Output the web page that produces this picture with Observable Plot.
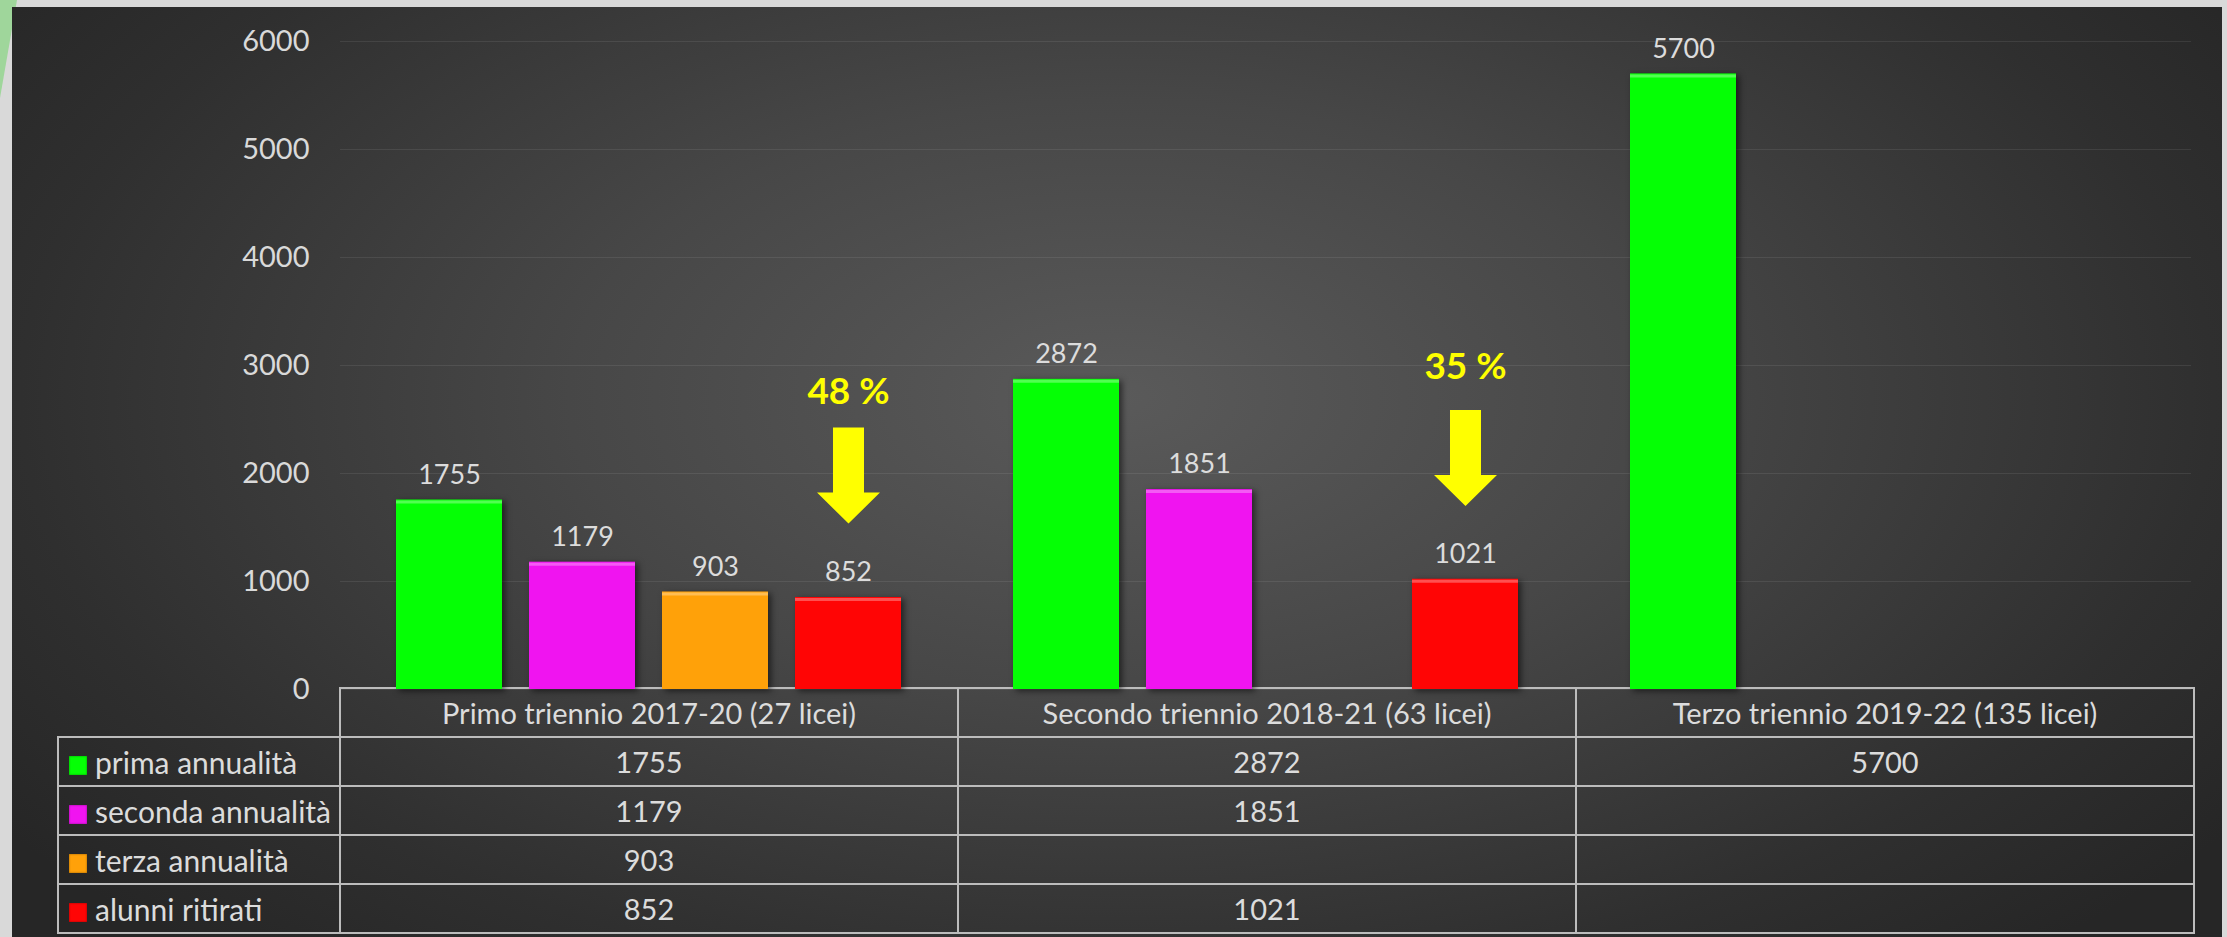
<!DOCTYPE html>
<html>
<head>
<meta charset="utf-8">
<script src="https://cdn.jsdelivr.net/npm/d3@7"></script>
<script src="https://cdn.jsdelivr.net/npm/@observablehq/plot@0.6"></script>
<style>
  html, body { margin: 0; padding: 0; width: 2227px; height: 937px; overflow: hidden; background: #d9d9d9; }
  #deco { position: absolute; left: 0; top: 0; width: 20px; height: 100px; background: #9fd69b; clip-path: polygon(0 0, 17px 0, 0 98px); }
  #bg { position: absolute; left: 12px; top: 7px; width: 2210px; height: 930px;
        background: radial-gradient(ellipse 62% 80% at 50% 42%, #5a5a5a 0%, #474747 40%, #2f2f2f 80%, #262626 100%); }
  #chart { position: absolute; left: 0; top: 0; }
  #table { position: absolute; left: 57px; top: 687px; }
  table { border-collapse: collapse; table-layout: fixed; font-family: Lato, "Open Sans", sans-serif; font-size: 29px; color: #dcdcdc; }
  td { border: 2px solid #bcbcbc; text-align: center; height: 47px; padding: 0; white-space: nowrap; }
  td.leg { text-align: left; padding-left: 10px; font-size: 30px; }
  td.blank { border-top: none; border-left: none; }
  .sw { display: inline-block; width: 18px; height: 19px; margin-right: 8px; vertical-align: -1px; box-shadow: inset 0 0 2px rgba(0,0,0,0.5); }
  g[aria-label="bar"] rect { filter: drop-shadow(3px 2px 3px rgba(0,0,0,0.55)); }
</style>
</head>
<body>
<div id="deco"></div>
<div id="bg"></div>
<div id="table"></div>
<div id="chart"></div>
<script>
// ---- data ----
const periods = [
  "Primo triennio 2017-20 (27 licei)",
  "Secondo triennio 2018-21 (63 licei)",
  "Terzo triennio 2019-22 (135 licei)"
];
const seriesNames = ["prima annualità", "seconda annualità", "terza annualità", "alunni ritirati"];
const seriesColors = ["#05ff05", "#f014f0", "#ffa109", "#ff0505"];
const primaAnnualita   = [1755, 2872, 5700];
const secondaAnnualita = [1179, 1851, null];
const terzaAnnualita   = [903, null, null];
const alunniRitirati   = [852, 1021, null];
const yTicks = [0, 1000, 2000, 3000, 4000, 5000, 6000];
// annotations (drop-out percentages)
const dropPeriods = [periods[0], periods[1]];
const dropLabels = ["48 %", "35 %"];
const dropLabelY = [2750, 2981];
const dropArrowY = [1981, 2144];

// ---- build tables for Plot ----
const seriesValues = [primaAnnualita, secondaAnnualita, terzaAnnualita, alunniRitirati];
const rows = [];
seriesNames.forEach((s, si) => {
  periods.forEach((p, pi) => {
    const v = seriesValues[si][pi];
    if (v != null) rows.push({period: p, series: s, value: v});
  });
});
const drops = dropPeriods.map((p, i) => ({period: p, series: seriesNames[3], label: dropLabels[i], labelY: dropLabelY[i], arrowY: dropArrowY[i]}));

// block arrow pointing down, as a custom symbol
const blockArrow = {
  draw(context, size) {
    const r = Math.sqrt(size / Math.PI);
    const sw = 0.323 * r, hw = 0.656 * r, hb = 0.354 * r;
    context.moveTo(-sw, -r);
    context.lineTo(sw, -r);
    context.lineTo(sw, hb);
    context.lineTo(hw, hb);
    context.lineTo(0, r);
    context.lineTo(-hw, hb);
    context.lineTo(-sw, hb);
    context.closePath();
  }
};

const chart = Plot.plot({
  width: 2227,
  height: 709,
  marginLeft: 339,
  marginRight: 35,
  marginTop: 41,
  marginBottom: 20,
  style: {background: "transparent", color: "#d9d9d9", fontFamily: "Lato, 'Open Sans', sans-serif", fontSize: "29px", overflow: "visible"},
  fx: {domain: periods, padding: 0, axis: null, label: null},
  x: {domain: seriesNames, paddingInner: 0.2, paddingOuter: 0.406, axis: null, label: null},
  y: {domain: [0, 6000], ticks: yTicks, tickSize: 0, tickPadding: 31, tickFormat: "d", label: null, grid: true},
  color: {domain: seriesNames, range: seriesColors},
  marks: [
    Plot.barY(rows, {fx: "period", x: "series", y: "value", fill: "series"}),
    Plot.tickY(rows, {fx: "period", x: "series", y: "value", stroke: "white", strokeOpacity: 0.3, strokeWidth: 3, dy: 2}),
    Plot.text(rows, {fx: "period", x: "series", y: "value", text: d => String(d.value), dy: -25, fill: "#dcdcdc", fontSize: 27}),
    Plot.dot(drops, {fx: "period", x: "series", y: "arrowY", r: 48, symbol: blockArrow, fill: "#ffff00", stroke: "none"}),
    Plot.text(drops, {fx: "period", x: "series", y: "labelY", text: "label", fill: "#ffff00", fontSize: 37, fontWeight: "bold"})
  ]
});
document.getElementById("chart").appendChild(chart);

// ---- data table below the chart ----
const colW = [282, 618, 618, 618];
let html = "<table><colgroup>" + colW.map(w => `<col style="width:${w}px">`).join("") + "</colgroup>";
html += "<tr><td class='blank'></td>" + periods.map(p => `<td>${p}</td>`).join("") + "</tr>";
seriesNames.forEach((s, si) => {
  html += `<tr><td class="leg"><span class="sw" style="background:${seriesColors[si]}"></span>${s}</td>`;
  html += seriesValues[si].map(v => `<td>${v == null ? "" : v}</td>`).join("");
  html += "</tr>";
});
html += "</table>";
document.getElementById("table").innerHTML = html;
</script>
</body>
</html>
